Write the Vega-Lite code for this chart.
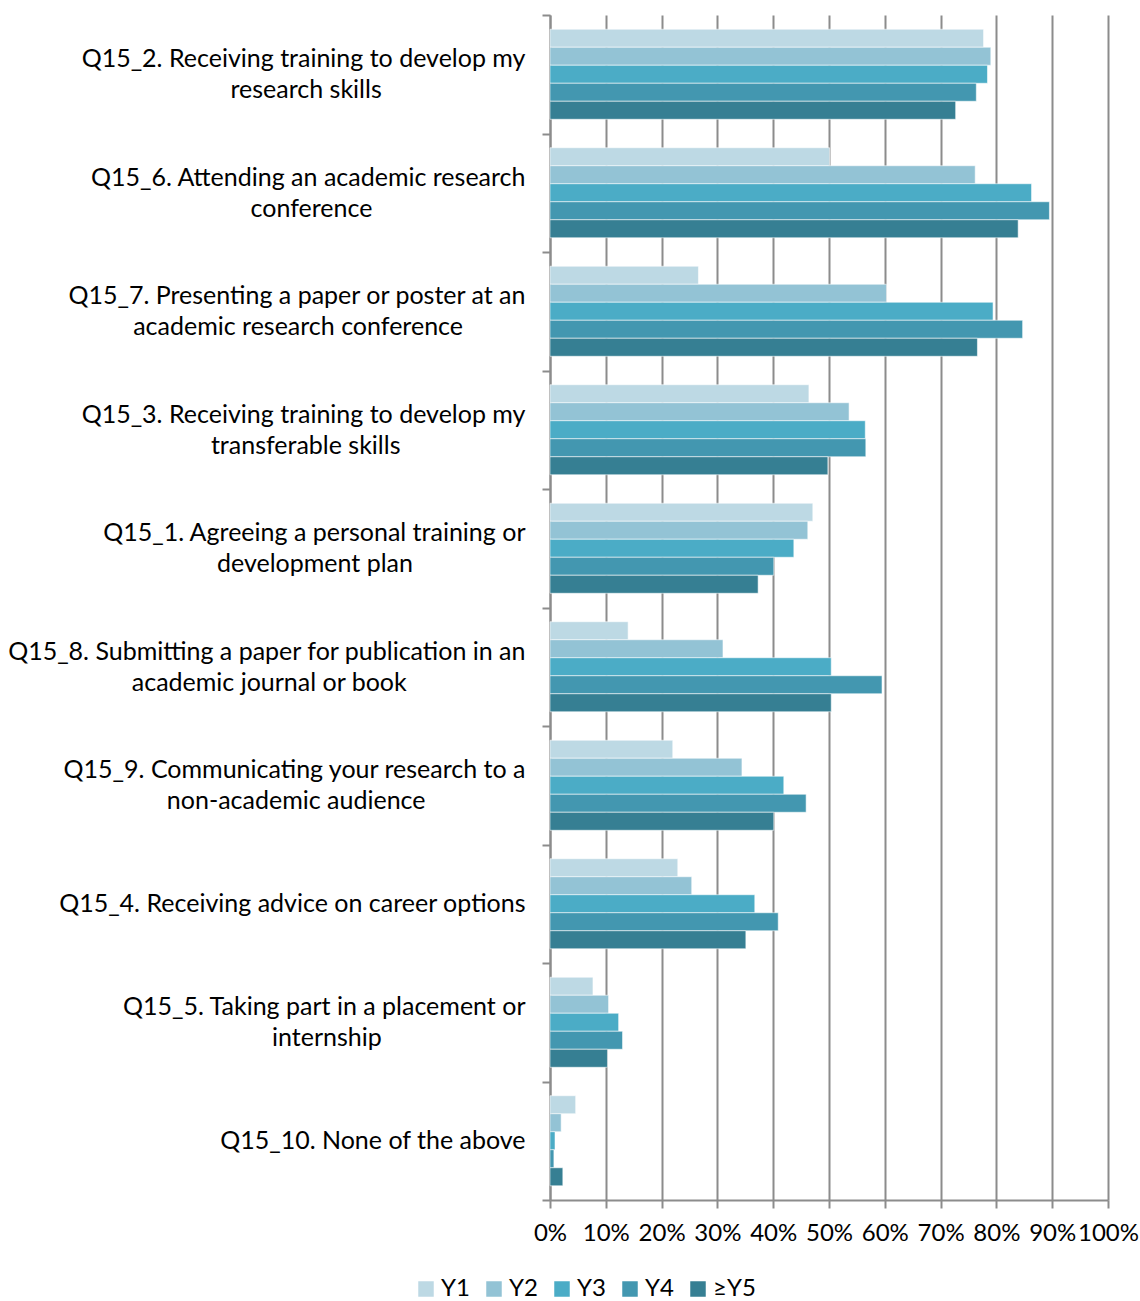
{
  "$schema": "https://vega.github.io/schema/vega-lite/v6.json",
  "width": 558,
  "height": 1185,
  "autosize": "none",
  "padding": {"left": 550, "top": 15, "right": 32, "bottom": 101},
  "background": "white",
  "config": {
    "font": "Lato",
    "view": {"stroke": null}
  },
  "data": {
    "values": [
      {"q": "Q15_2. Receiving training to develop my\nresearch skills", "year": "Y1", "value": 0.777},
      {"q": "Q15_2. Receiving training to develop my\nresearch skills", "year": "Y2", "value": 0.790},
      {"q": "Q15_2. Receiving training to develop my\nresearch skills", "year": "Y3", "value": 0.784},
      {"q": "Q15_2. Receiving training to develop my\nresearch skills", "year": "Y4", "value": 0.764},
      {"q": "Q15_2. Receiving training to develop my\nresearch skills", "year": "≥Y5", "value": 0.727},
      {"q": "Q15_6. Attending an academic research\nconference", "year": "Y1", "value": 0.501},
      {"q": "Q15_6. Attending an academic research\nconference", "year": "Y2", "value": 0.762},
      {"q": "Q15_6. Attending an academic research\nconference", "year": "Y3", "value": 0.863},
      {"q": "Q15_6. Attending an academic research\nconference", "year": "Y4", "value": 0.895},
      {"q": "Q15_6. Attending an academic research\nconference", "year": "≥Y5", "value": 0.839},
      {"q": "Q15_7. Presenting a paper or poster at an\nacademic research conference", "year": "Y1", "value": 0.266},
      {"q": "Q15_7. Presenting a paper or poster at an\nacademic research conference", "year": "Y2", "value": 0.603},
      {"q": "Q15_7. Presenting a paper or poster at an\nacademic research conference", "year": "Y3", "value": 0.794},
      {"q": "Q15_7. Presenting a paper or poster at an\nacademic research conference", "year": "Y4", "value": 0.847},
      {"q": "Q15_7. Presenting a paper or poster at an\nacademic research conference", "year": "≥Y5", "value": 0.766},
      {"q": "Q15_3. Receiving training to develop my\ntransferable skills", "year": "Y1", "value": 0.464},
      {"q": "Q15_3. Receiving training to develop my\ntransferable skills", "year": "Y2", "value": 0.536},
      {"q": "Q15_3. Receiving training to develop my\ntransferable skills", "year": "Y3", "value": 0.565},
      {"q": "Q15_3. Receiving training to develop my\ntransferable skills", "year": "Y4", "value": 0.566},
      {"q": "Q15_3. Receiving training to develop my\ntransferable skills", "year": "≥Y5", "value": 0.498},
      {"q": "Q15_1. Agreeing a personal training or\ndevelopment plan", "year": "Y1", "value": 0.471},
      {"q": "Q15_1. Agreeing a personal training or\ndevelopment plan", "year": "Y2", "value": 0.462},
      {"q": "Q15_1. Agreeing a personal training or\ndevelopment plan", "year": "Y3", "value": 0.437},
      {"q": "Q15_1. Agreeing a personal training or\ndevelopment plan", "year": "Y4", "value": 0.401},
      {"q": "Q15_1. Agreeing a personal training or\ndevelopment plan", "year": "≥Y5", "value": 0.373},
      {"q": "Q15_8. Submitting a paper for publication in an\nacademic journal or book", "year": "Y1", "value": 0.140},
      {"q": "Q15_8. Submitting a paper for publication in an\nacademic journal or book", "year": "Y2", "value": 0.310},
      {"q": "Q15_8. Submitting a paper for publication in an\nacademic journal or book", "year": "Y3", "value": 0.504},
      {"q": "Q15_8. Submitting a paper for publication in an\nacademic journal or book", "year": "Y4", "value": 0.595},
      {"q": "Q15_8. Submitting a paper for publication in an\nacademic journal or book", "year": "≥Y5", "value": 0.504},
      {"q": "Q15_9. Communicating your research to a\nnon-academic audience", "year": "Y1", "value": 0.220},
      {"q": "Q15_9. Communicating your research to a\nnon-academic audience", "year": "Y2", "value": 0.344},
      {"q": "Q15_9. Communicating your research to a\nnon-academic audience", "year": "Y3", "value": 0.419},
      {"q": "Q15_9. Communicating your research to a\nnon-academic audience", "year": "Y4", "value": 0.459},
      {"q": "Q15_9. Communicating your research to a\nnon-academic audience", "year": "≥Y5", "value": 0.401},
      {"q": "Q15_4. Receiving advice on career options", "year": "Y1", "value": 0.229},
      {"q": "Q15_4. Receiving advice on career options", "year": "Y2", "value": 0.254},
      {"q": "Q15_4. Receiving advice on career options", "year": "Y3", "value": 0.367},
      {"q": "Q15_4. Receiving advice on career options", "year": "Y4", "value": 0.409},
      {"q": "Q15_4. Receiving advice on career options", "year": "≥Y5", "value": 0.351},
      {"q": "Q15_5. Taking part in a placement or\ninternship", "year": "Y1", "value": 0.077},
      {"q": "Q15_5. Taking part in a placement or\ninternship", "year": "Y2", "value": 0.105},
      {"q": "Q15_5. Taking part in a placement or\ninternship", "year": "Y3", "value": 0.123},
      {"q": "Q15_5. Taking part in a placement or\ninternship", "year": "Y4", "value": 0.130},
      {"q": "Q15_5. Taking part in a placement or\ninternship", "year": "≥Y5", "value": 0.103},
      {"q": "Q15_10. None of the above", "year": "Y1", "value": 0.046},
      {"q": "Q15_10. None of the above", "year": "Y2", "value": 0.020},
      {"q": "Q15_10. None of the above", "year": "Y3", "value": 0.009},
      {"q": "Q15_10. None of the above", "year": "Y4", "value": 0.007},
      {"q": "Q15_10. None of the above", "year": "≥Y5", "value": 0.023}
    ]
  },
  "mark": {"type": "bar", "stroke": "#ffffff", "strokeOpacity": 0.55, "strokeWidth": 1},
  "encoding": {
    "y": {
      "field": "q",
      "type": "nominal",
      "sort": null,
      "title": null,
      "scale": {"paddingInner": 0, "paddingOuter": 0},
      "axis": {
        "labelExpr": "indexof(datum.label, '\\n') < 0 ? ['\u200b', datum.label] : [split(datum.label, '\\n')[0], '\u200b', split(datum.label, '\\n')[1] + pad('', [11, 12, 5, 10, 9, 9, 8, 0, 11, 0][indexof(['Q15_2', 'Q15_6', 'Q15_7', 'Q15_3', 'Q15_1', 'Q15_8', 'Q15_9', 'Q15_4', 'Q15_5', 'Q15_10'], split(datum.label, '.')[0])], '\u2002') + pad('', [2, 1, 0, 0, 0, 2, 0, 0, 2, 0][indexof(['Q15_2', 'Q15_6', 'Q15_7', 'Q15_3', 'Q15_1', 'Q15_8', 'Q15_9', 'Q15_4', 'Q15_5', 'Q15_10'], split(datum.label, '.')[0])], '\u2009') + '\u200b']",
        "labelFontSize": 25,
        "labelColor": "#000000",
        "labelLineHeight": 15.5,
        "labelOffset": -15.5,
        "labelPadding": 17,
        "labelLimit": 700,
        "tickBand": "extent",
        "tickSize": 8,
        "tickColor": "#8c8c8c",
        "tickWidth": 2,
        "domainColor": "#8c8c8c",
        "domainWidth": 2,
        "grid": false
      }
    },
    "yOffset": {
      "field": "year",
      "type": "nominal",
      "sort": ["Y1", "Y2", "Y3", "Y4", "≥Y5"],
      "scale": {"paddingInner": 0, "paddingOuter": 0.79}
    },
    "x": {
      "field": "value",
      "type": "quantitative",
      "title": null,
      "scale": {"domain": [0, 1], "nice": false},
      "axis": {
        "values": [0, 0.1, 0.2, 0.3, 0.4, 0.5, 0.6, 0.7, 0.8, 0.9, 1],
        "format": ".0%",
        "labelFontSize": 24,
        "labelColor": "#000000",
        "labelPadding": 13,
        "labelFlush": false,
        "labelOverlap": false,
        "tickSize": 8,
        "tickColor": "#8c8c8c",
        "tickWidth": 2,
        "domainColor": "#8c8c8c",
        "domainWidth": 2,
        "grid": true,
        "gridColor": "#8c8c8c",
        "gridWidth": 2
      }
    },
    "color": {
      "field": "year",
      "type": "nominal",
      "title": null,
      "scale": {
        "domain": ["Y1", "Y2", "Y3", "Y4", "≥Y5"],
        "range": ["#bdd9e4", "#93c3d5", "#4bacc6", "#4397b0", "#367f93"]
      },
      "legend": {
        "orient": "none",
        "direction": "horizontal",
        "legendX": -136,
        "legendY": 1262,
        "symbolType": "square",
        "symbolSize": 240,
        "symbolStrokeWidth": 0,
        "labelFontSize": 24,
        "labelColor": "#000000",
        "labelOffset": 3,
        "columnPadding": 12
      }
    }
  }
}
